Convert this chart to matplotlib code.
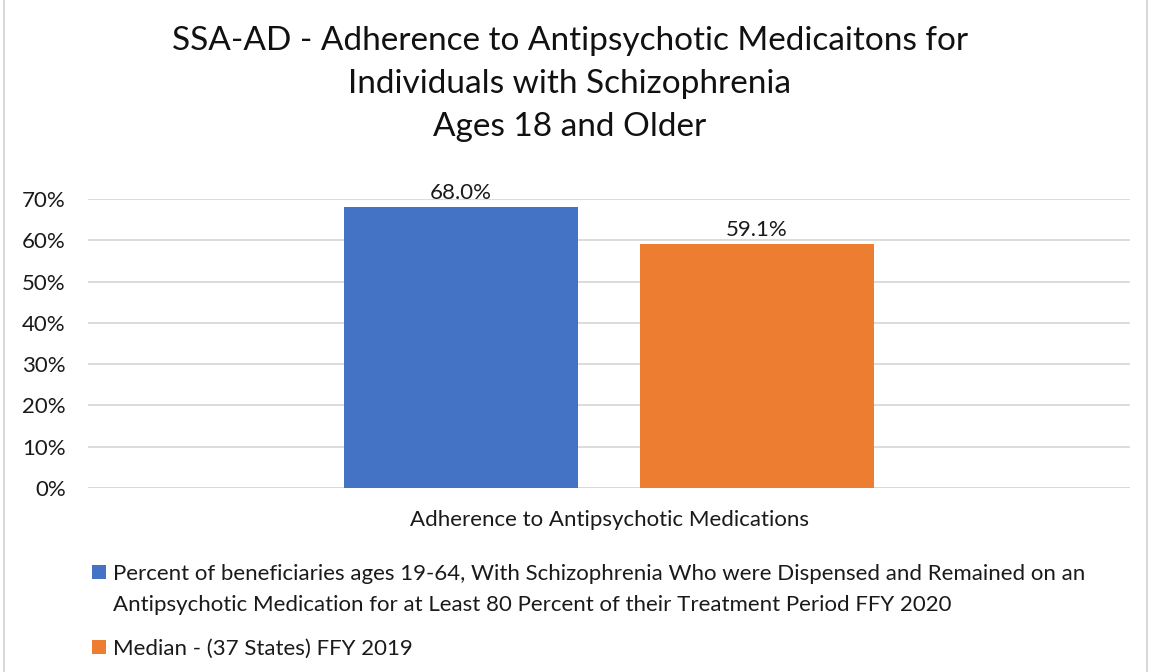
import matplotlib
matplotlib.use("Agg")
import matplotlib.pyplot as plt
from matplotlib.patches import Rectangle

plt.rcParams['font.family'] = ['Lato', 'DejaVu Sans']

title = "SSA-AD - Adherence to Antipsychotic Medicaitons for\nIndividuals with Schizophrenia\nAges 18 and Older"
category = "Adherence to Antipsychotic Medications"
series_labels = [
    "Percent of beneficiaries ages 19-64, With Schizophrenia Who were Dispensed and Remained on an\nAntipsychotic Medication for at Least 80 Percent of their Treatment Period FFY 2020",
    "Median - (37 States) FFY 2019",
]
values = [68.0, 59.1]
value_labels = ["68.0%", "59.1%"]
colors = ["#4472C4", "#ED7D31"]
yticks = [0, 10, 20, 30, 40, 50, 60, 70]

FS = 16
TXT = '#1a1a1a'
W, H = 1151, 672

fig = plt.figure(figsize=(W/100, H/100), dpi=100)
ax = fig.add_axes([88/W, 1-488/H, (1130-88)/W, (488-199)/H])

n = len(values)
width = 0.2246
gap = 0.059
offsets = [(i - (n-1)/2) * (width + gap) for i in range(n)]
for i, (v, c, lab, vl) in enumerate(zip(values, colors, series_labels, value_labels)):
    ax.bar(offsets[i], v, width=width, color=c, label=lab, zorder=3)
    ax.text(offsets[i], v + 1.0, vl, ha='center', va='bottom', fontsize=FS, color=TXT)

ax.set_xlim(-0.5, 0.5)
ax.set_ylim(0, 70)
ax.set_yticks(yticks)
ax.set_yticklabels([f"{t}%" for t in yticks], fontsize=FS, color=TXT)
ax.set_xticks([0])
ax.set_xticklabels([category], fontsize=FS, color=TXT)
ax.tick_params(axis='both', length=0)
ax.tick_params(axis='y', pad=16)
ax.tick_params(axis='x', pad=16)
ax.grid(axis='y', color='#D9D9D9', linewidth=1.3, zorder=0)
for s in ax.spines.values():
    s.set_visible(False)
ax.axhline(0, color='#D9D9D9', linewidth=1.3, zorder=1)

fig.text(570/W, 1-25.5/H, title, ha='center', va='top', fontsize=24, linespacing=1.56, color='#111111')

# legend (manual layout)
entry_baselines = [580, 655]
line_step = 31
for lab, c, yb in zip(series_labels, colors, entry_baselines):
    fig.add_artist(Rectangle((92/W, 1-(yb-1)/H), 14/W, 14/H, transform=fig.transFigure,
                             facecolor=c, edgecolor='none'))
    for k, line in enumerate(lab.split("\n")):
        fig.text(113/W, 1-(yb + k*line_step)/H, line, ha='left', va='baseline',
                 fontsize=FS, color=TXT)

fig.patches.append(Rectangle((4/W, -0.01), 1 - 8/W, 1.02, transform=fig.transFigure,
                             fill=False, edgecolor='#D9D9D9', linewidth=1.5))

fig.savefig("out.png", dpi=100)
